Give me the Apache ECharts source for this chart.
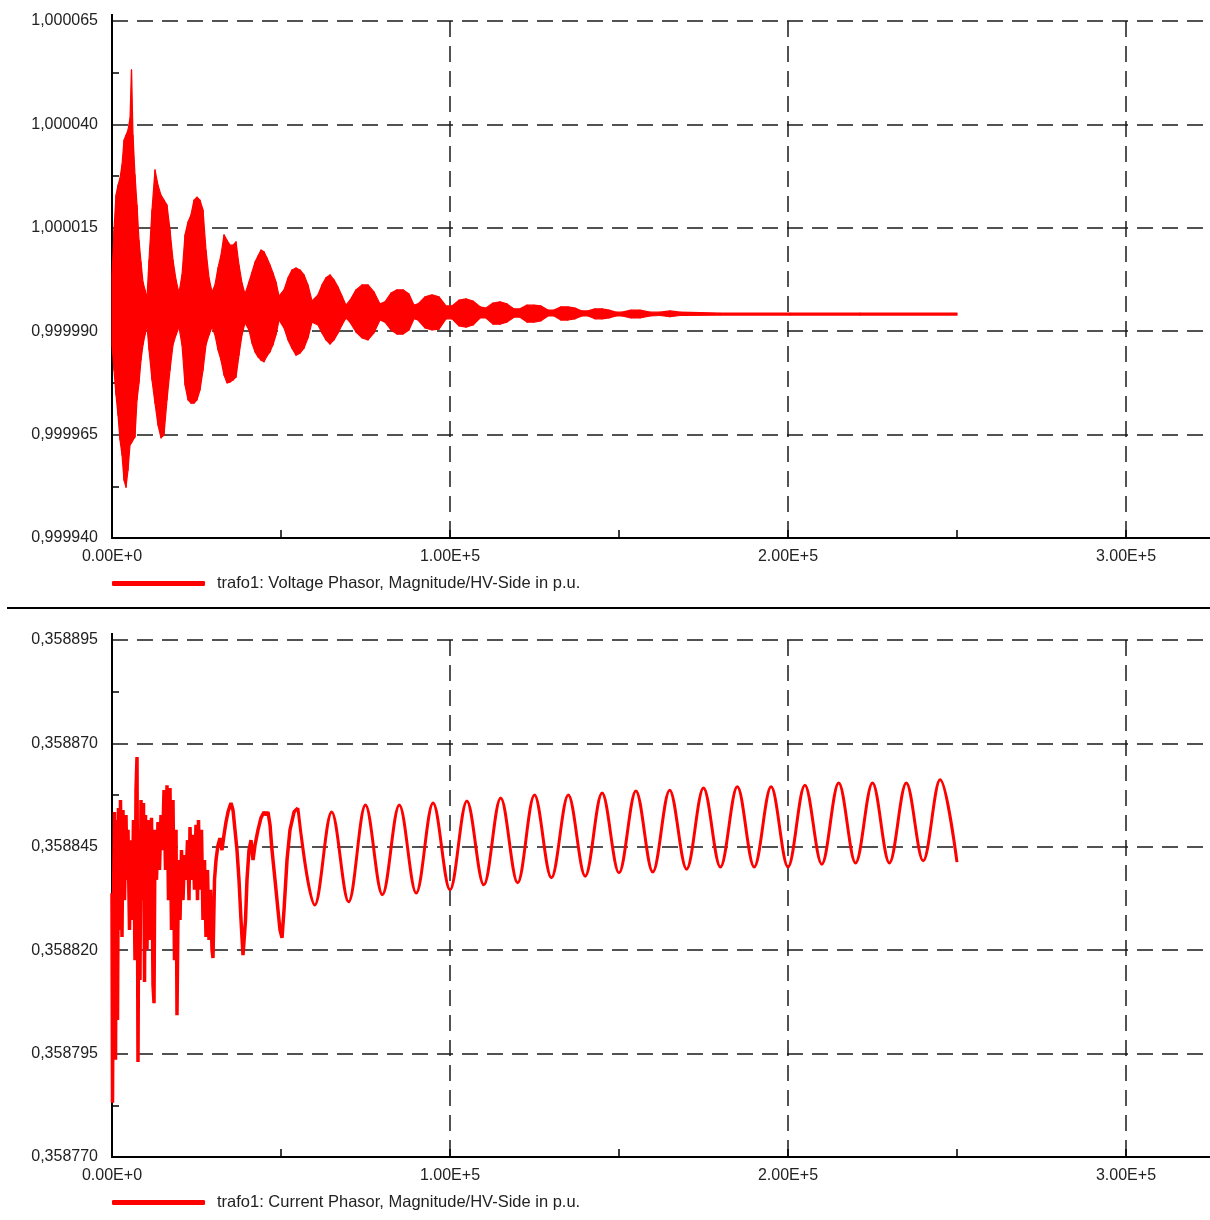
<!DOCTYPE html>
<html><head><meta charset="utf-8">
<script src="https://cdn.jsdelivr.net/npm/echarts@6/dist/echarts.min.js"></script>
<style>html,body{margin:0;padding:0;background:#fff}#c{width:1210px;height:1220px}</style>
</head><body><div id="c"></div>
<script>
// ---------- axis ticks / labels ----------
const xTicks = [0, 100000, 200000, 300000];
const xMinorTicks = [50000, 150000, 250000];
const xTickLabels = ['0.00E+0', '1.00E+5', '2.00E+5', '3.00E+5'];
const voltTicks = [0.99994, 0.999965, 0.99999, 1.000015, 1.00004, 1.000065];
const voltMinorTicks = [0.9999525, 0.9999775, 1.0000025, 1.0000275, 1.0000525];
const voltTickLabels = ['0,999940', '0,999965', '0,999990', '1,000015', '1,000040', '1,000065'];
const currTicks = [0.35877, 0.358795, 0.35882, 0.358845, 0.35887, 0.358895];
const currMinorTicks = [0.3587825, 0.3588075, 0.3588325, 0.3588575, 0.3588825];
const currTickLabels = ['0,358770', '0,358795', '0,358820', '0,358845', '0,358870', '0,358895'];

const voltName = 'trafo1: Voltage Phasor, Magnitude/HV-Side in p.u.';
const currName = 'trafo1: Current Phasor, Magnitude/HV-Side in p.u.';

// ---------- voltage: envelope (upper / lower) of the fast oscillation ----------
const voltTime = [
  0, 590, 1180, 1780, 2370, 2960, 3550, 4140, 4730, 5330, 5770, 6210, 6800, 7400, 7990, 8580, 9170, 9760, 10360,
  10950, 11830, 12720, 13610, 14500, 15380, 16270, 17160, 18050, 18940, 19820,
  20710, 21600, 22490, 23370, 24260, 25150, 26040, 26930, 27810, 28700, 29590,
  30470, 31360, 32250, 33140, 34020, 34910, 35800, 36690, 37570, 38460, 39350,
  40530, 41420, 42310, 43200, 44080, 44970, 45860, 46750, 47630, 48520, 49410,
  50890, 52070, 53250, 54440, 55620, 56810, 57990, 59180,
  60950, 62130, 63310, 64500, 65680, 66870, 68050, 69230,
  70410, 72190, 73970, 75740, 77520, 79290,
  80770, 82550, 84320, 86100, 87870, 89350,
  90530, 92600, 94680, 96750, 98820,
  100590, 102660, 104730, 106810, 108880,
  110650, 112720, 114790, 116860, 118940,
  120710, 122780, 124850, 126920, 128990,
  130770, 132840, 134910, 136980, 139050,
  140830, 142900, 144970, 147040, 149110,
  150890, 153550, 156210, 159170,
  162130, 165090, 168050,
  179880, 200590, 221300, 250000
];
const voltUpper = [
  1.0000036, 1.0000145, 1.0000229, 1.0000253, 1.0000270, 1.0000302, 1.0000362, 1.0000374, 1.0000386, 1.0000415, 1.0000532, 1.0000374, 1.0000278, 1.0000205, 1.0000120, 1.0000067, 1.0000019, 1.0000000, 0.9999983,
  1.0000072, 1.0000193, 1.0000290, 1.0000253, 1.0000229, 1.0000217, 1.0000205, 1.0000145, 1.0000072, 1.0000024, 0.9999992,
  1.0000036, 1.0000133, 1.0000164, 1.0000181, 1.0000217, 1.0000224, 1.0000217, 1.0000193, 1.0000096, 1.0000029, 0.9999995,
  1.0000012, 1.0000053, 1.0000084, 1.0000133, 1.0000120, 1.0000108, 1.0000108, 1.0000116, 1.0000060, 1.0000017, 0.9999990,
  1.0000019, 1.0000043, 1.0000067, 1.0000082, 1.0000096, 1.0000092, 1.0000077, 1.0000060, 1.0000041, 1.0000019, 0.9999985,
  1.0000000, 1.0000029, 1.0000048, 1.0000053, 1.0000048, 1.0000036, 1.0000012, 0.9999973,
  0.9999988, 1.0000012, 1.0000029, 1.0000036, 1.0000024, 1.0000007, 0.9999985, 0.9999963,
  0.9999975, 1.0000000, 1.0000012, 1.0000012, 0.9999995, 0.9999966,
  0.9999971, 0.9999992, 1.0000000, 1.0000000, 0.9999990, 0.9999963,
  0.9999966, 0.9999983, 0.9999988, 0.9999983, 0.9999961,
  0.9999961, 0.9999975, 0.9999978, 0.9999973, 0.9999959,
  0.9999956, 0.9999968, 0.9999971, 0.9999966, 0.9999954,
  0.9999954, 0.9999963, 0.9999963, 0.9999961, 0.9999951,
  0.9999951, 0.9999959, 0.9999959, 0.9999956, 0.9999949,
  0.9999949, 0.9999954, 0.9999954, 0.9999951, 0.9999946,
  0.9999946, 0.9999951, 0.9999951, 0.9999946,
  0.9999946, 0.9999949, 0.9999946,
  0.9999944, 0.9999944, 0.9999944, 0.9999944
];
const voltLower = [
  0.9999867, 0.9999806, 0.9999746, 0.9999697, 0.9999637, 0.9999601, 0.9999540, 0.9999523, 0.9999564, 0.9999625, 0.9999630, 0.9999637, 0.9999644, 0.9999734, 0.9999775, 0.9999830, 0.9999867, 0.9999891, 0.9999913,
  0.9999855, 0.9999782, 0.9999726, 0.9999673, 0.9999642, 0.9999649, 0.9999734, 0.9999806, 0.9999867, 0.9999891, 0.9999910,
  0.9999867, 0.9999770, 0.9999734, 0.9999726, 0.9999726, 0.9999734, 0.9999758, 0.9999806, 0.9999867, 0.9999891, 0.9999910,
  0.9999891, 0.9999855, 0.9999830, 0.9999794, 0.9999775, 0.9999777, 0.9999782, 0.9999789, 0.9999842, 0.9999891, 0.9999920,
  0.9999903, 0.9999871, 0.9999850, 0.9999838, 0.9999830, 0.9999826, 0.9999840, 0.9999850, 0.9999867, 0.9999891, 0.9999927,
  0.9999908, 0.9999879, 0.9999859, 0.9999842, 0.9999847, 0.9999859, 0.9999884, 0.9999922,
  0.9999915, 0.9999896, 0.9999879, 0.9999869, 0.9999879, 0.9999896, 0.9999915, 0.9999932,
  0.9999922, 0.9999898, 0.9999884, 0.9999879, 0.9999896, 0.9999927,
  0.9999922, 0.9999903, 0.9999893, 0.9999893, 0.9999903, 0.9999930,
  0.9999927, 0.9999908, 0.9999903, 0.9999905, 0.9999930,
  0.9999930, 0.9999913, 0.9999910, 0.9999915, 0.9999932,
  0.9999932, 0.9999917, 0.9999917, 0.9999922, 0.9999934,
  0.9999934, 0.9999922, 0.9999922, 0.9999925, 0.9999937,
  0.9999937, 0.9999927, 0.9999927, 0.9999930, 0.9999937,
  0.9999937, 0.9999930, 0.9999930, 0.9999932, 0.9999937,
  0.9999937, 0.9999932, 0.9999932, 0.9999937,
  0.9999938, 0.9999935, 0.9999938,
  0.9999939, 0.9999939, 0.9999939, 0.9999939
];

// ---------- current: early irregular part ----------
const currEarlyTime = [
  0, 150, 440, 740, 1040, 1330, 1630, 1920, 2220, 2510,
  2960, 3250, 3700, 4140, 4440, 4730, 5180, 5620, 5920, 6360,
  6800, 7100, 7400, 7690, 7990, 8280, 8580, 9020, 9320, 9620,
  9910, 10350, 10800, 11240, 11690, 12130, 12430, 12720, 13170, 13610,
  14050, 14500, 14940, 15390, 15830, 16270, 16720, 17160, 17600, 18050,
  18490, 18940, 19230, 19680, 20120, 20560, 21010, 21450, 21890, 22340,
  22780, 23080, 23520, 23960, 24410, 24850, 25300, 25590, 26040, 26480,
  26920, 27370, 27810, 28250, 28700, 29140, 29590, 29880, 30330, 30770,
  31360, 31950, 32540, 33140, 33730, 34320, 34910, 35210, 35800, 36390,
  36980, 37570, 38170, 38760, 39050, 39500, 39940, 40530, 41120, 41720,
  42310, 43200, 44080, 44970, 45560, 46150, 46750, 47340, 48230, 49110,
  49700, 50300, 50890, 51780, 52660, 53850, 55000
];
const currEarlyValue = [
  0.3588338, 0.3587831, 0.3588321, 0.3588534, 0.3587935, 0.3588515, 0.3588031, 0.3588544, 0.3588249, 0.3588563,
  0.3588232, 0.3588539, 0.3588321, 0.3588527, 0.3588370, 0.3588491, 0.3588249, 0.3588466, 0.3588273, 0.3588515,
  0.3588176, 0.3588587, 0.3588667, 0.3587930, 0.3588491, 0.3588128, 0.3588563, 0.3588321, 0.3588556, 0.3588123,
  0.3588527, 0.3588201, 0.3588515, 0.3588225, 0.3588520, 0.3588116, 0.3588072, 0.3588491, 0.3588370, 0.3588510,
  0.3588394, 0.3588527, 0.3588442, 0.3588587, 0.3588394, 0.3588599, 0.3588321, 0.3588592, 0.3588249, 0.3588563,
  0.3588176, 0.3588491, 0.3588043, 0.3588418, 0.3588273, 0.3588442, 0.3588321, 0.3588430, 0.3588370, 0.3588466,
  0.3588321, 0.3588498, 0.3588370, 0.3588479, 0.3588346, 0.3588503, 0.3588321, 0.3588515, 0.3588346, 0.3588491,
  0.3588273, 0.3588418, 0.3588232, 0.3588394, 0.3588225, 0.3588346, 0.3588201, 0.3588181, 0.3588370, 0.3588418,
  0.3588454, 0.3588471, 0.3588442, 0.3588479, 0.3588510, 0.3588534, 0.3588549, 0.3588556, 0.3588539, 0.3588491,
  0.3588442, 0.3588370, 0.3588273, 0.3588188, 0.3588184, 0.3588273, 0.3588370, 0.3588442, 0.3588466, 0.3588418,
  0.3588454, 0.3588491, 0.3588520, 0.3588534, 0.3588527, 0.3588534, 0.3588503, 0.3588442, 0.3588370, 0.3588297,
  0.3588249, 0.3588230, 0.3588297, 0.3588418, 0.3588491, 0.3588534, 0.3588544
];

// ---------- current: regular oscillation (peaks and troughs) ----------
const currWaveTime = [
  55000, 60000, 65000, 70000, 75000, 80000, 85000, 90000, 95000, 100000,
  105000, 110000, 115000, 120000, 125000, 130000, 135000, 140000, 145000, 150000,
  155000, 160000, 165000, 170000, 175000, 180000, 185000, 190000, 195000, 200000,
  205000, 210000, 215000, 220000, 225000, 230000, 235000, 240000, 245000, 250000
];
const currWaveValue = [
  0.3588544, 0.3588309, 0.3588534, 0.3588317, 0.3588551, 0.3588334, 0.3588551, 0.3588338, 0.3588556, 0.3588346,
  0.3588561, 0.3588358, 0.3588568, 0.3588363, 0.3588575, 0.3588375, 0.3588575, 0.3588379, 0.3588580, 0.3588387,
  0.3588585, 0.3588389, 0.3588587, 0.3588396, 0.3588592, 0.3588401, 0.3588595, 0.3588401, 0.3588595, 0.3588401,
  0.3588599, 0.3588408, 0.3588604, 0.3588411, 0.3588604, 0.3588411, 0.3588604, 0.3588416, 0.3588612, 0.3588413
];

// ---------- chart ----------
const FONT = 'Liberation Sans, Arial, sans-serif';
const TXT = '#222';
const RED = '#ff0000';
const X_MAX = 324852;

function nearestLabel(v, ticks, labels) {
  let best = 0, d = Infinity;
  ticks.forEach((t, i) => { const dd = Math.abs(t - v); if (dd < d) { d = dd; best = i; } });
  return labels[best];
}

function mainX(g) {
  return {
    type: 'value', gridIndex: g, position: 'bottom', min: 0, max: X_MAX,
    axisLine: { show: true, onZero: false, lineStyle: { color: '#000', width: 2 } },
    axisTick: { show: true, inside: true, length: 8, customValues: xTicks, lineStyle: { color: '#000', width: 1.5 } },
    axisLabel: { show: true, customValues: xTicks, color: TXT, fontSize: 16, fontFamily: FONT, margin: 11,
      showMinLabel: true, showMaxLabel: true,
      formatter: v => nearestLabel(v, xTicks, xTickLabels) },
    splitLine: { show: true, lineStyle: { color: '#1a1a1a', width: 1.5, type: [16, 9] } }
  };
}
function minorX(g) {
  return {
    type: 'value', gridIndex: g, position: 'bottom', min: 0, max: X_MAX,
    axisLine: { show: false, onZero: false },
    axisTick: { show: true, inside: true, length: 8, customValues: xMinorTicks, lineStyle: { color: '#000', width: 1.5 } },
    axisLabel: { show: false }, splitLine: { show: false }
  };
}
function mainY(g, ticks, labels) {
  return {
    type: 'value', gridIndex: g, position: 'left', min: ticks[0], max: ticks[ticks.length - 1],
    axisLine: { show: true, onZero: false, lineStyle: { color: '#000', width: 2 } },
    axisTick: { show: false, customValues: ticks },
    axisLabel: { show: true, customValues: ticks, color: TXT, fontSize: 16, fontFamily: FONT, margin: 14,
      showMinLabel: true, showMaxLabel: true,
      formatter: v => nearestLabel(v, ticks, labels) },
    splitLine: { show: true, lineStyle: { color: '#1a1a1a', width: 1.5, type: [16, 9] } }
  };
}
function minorY(g, ticks, minor) {
  return {
    type: 'value', gridIndex: g, position: 'left', min: ticks[0], max: ticks[ticks.length - 1],
    axisLine: { show: false, onZero: false },
    axisTick: { show: true, inside: true, length: 7, customValues: minor, lineStyle: { color: '#000', width: 1.5 } },
    axisLabel: { show: false }, splitLine: { show: false }
  };
}

const legendCommon = {
  orient: 'horizontal', left: 112, padding: 0, icon: 'roundRect', itemWidth: 93, itemHeight: 5,
  textStyle: { color: TXT, fontSize: 16.5, fontFamily: FONT, padding: [0, 0, 0, 7] },
  selectedMode: false
};

// band between upper and lower envelope, drawn segment by segment through the axes
function bandRenderItem(params, api) {
  const i = params.dataIndexInside;
  if (i >= params.dataInsideLength - 1) return null;
  const a0 = api.coord([api.value(0, i), api.value(1, i)]);
  const a1 = api.coord([api.value(0, i + 1), api.value(1, i + 1)]);
  const b1 = api.coord([api.value(0, i + 1), api.value(2, i + 1)]);
  const b0 = api.coord([api.value(0, i), api.value(2, i)]);
  return {
    type: 'polygon',
    shape: { points: [a0, a1, b1, b0] },
    style: { fill: RED, stroke: RED, lineWidth: 1.2, lineJoin: 'round' }
  };
}

const option = {
  animation: false,
  backgroundColor: '#fff',
  grid: [
    { left: 112, top: 21, width: 1098, height: 517 },
    { left: 112, top: 640, width: 1098, height: 517 }
  ],
  xAxis: [mainX(0), minorX(0), mainX(1), minorX(1)],
  yAxis: [
    mainY(0, voltTicks, voltTickLabels), minorY(0, voltTicks, voltMinorTicks),
    mainY(1, currTicks, currTickLabels), minorY(1, currTicks, currMinorTicks)
  ],
  legend: [
    Object.assign({ top: 575, data: [voltName] }, legendCommon),
    Object.assign({ top: 1194, data: [currName] }, legendCommon)
  ],
  graphic: [
    { type: 'line', shape: { x1: 7, y1: 608, x2: 1210, y2: 608 }, style: { stroke: '#000', lineWidth: 2 }, z: 10 },
    { type: 'line', shape: { x1: 112, y1: 14, x2: 112, y2: 22 }, style: { stroke: '#000', lineWidth: 2 }, z: 10 },
    { type: 'line', shape: { x1: 112, y1: 633, x2: 112, y2: 641 }, style: { stroke: '#000', lineWidth: 2 }, z: 10 }
  ],
  series: [
    {
      name: voltName, type: 'custom', xAxisIndex: 0, yAxisIndex: 0,
      data: voltTime.map((t, i) => [t, voltUpper[i], voltLower[i]]),
      encode: { x: 0, y: [1, 2] },
      renderItem: bandRenderItem,
      itemStyle: { color: RED }, z: 3
    },
    {
      name: currName, type: 'line', xAxisIndex: 2, yAxisIndex: 2,
      data: currEarlyTime.map((t, i) => [t, currEarlyValue[i]]),
      symbol: 'none', lineStyle: { color: RED, width: 3.5 }, itemStyle: { color: RED }, z: 3
    },
    {
      name: currName, type: 'line', xAxisIndex: 2, yAxisIndex: 2, smooth: 0.35,
      data: currWaveTime.map((t, i) => [t, currWaveValue[i]]),
      symbol: 'none', lineStyle: { color: RED, width: 3 }, itemStyle: { color: RED }, z: 3
    }
  ]
};

const chart = echarts.init(document.getElementById('c'), null, { renderer: 'canvas' });
chart.setOption(option);
</script>
</body></html>
